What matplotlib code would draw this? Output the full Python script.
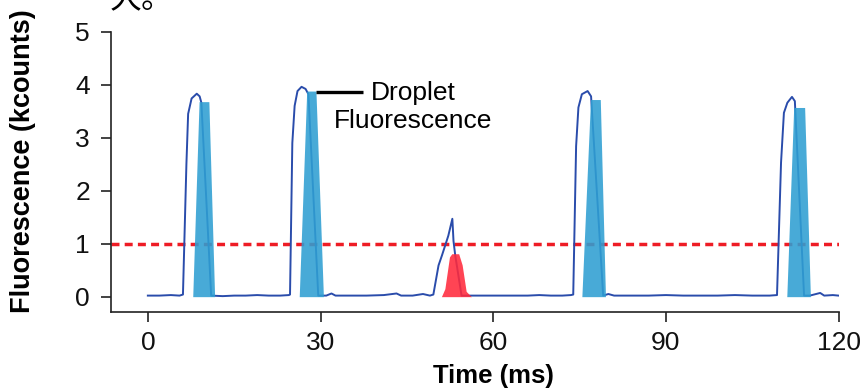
import matplotlib
matplotlib.use("Agg")
import matplotlib.pyplot as plt

plt.rcParams['font.family'] = ['Liberation Sans', 'DejaVu Sans']

# ---- data ----
time_ms = [0, 2, 4, 5.5, 6.1, 6.7, 7.0, 7.6, 8.5, 9.0, 9.3, 11.0,
           13, 15, 17, 19, 21, 23, 24.5, 24.7, 25.1, 25.5, 26.0, 26.7, 27.4, 27.9, 29.6,
           31.0, 31.9, 32.6, 35, 38, 41, 43.2, 44, 46, 47.8, 49.0, 49.6,
           50.5, 51.1, 52.2, 52.9, 53.1, 53.4, 54.5,
           56, 58, 60, 62, 64, 66, 68, 70, 72, 73.5,
           73.9, 74.4, 74.8, 75.4, 76.4, 77.0, 79.1,
           80, 81, 84, 87, 90, 93, 96, 99, 102, 105, 108,
           109.3, 110.0, 110.5, 111.1, 111.9, 112.4, 114.0,
           115, 116.8, 117.5, 119, 120]
fluor = [0.02, 0.02, 0.03, 0.02, 0.04, 2.5, 3.45, 3.74, 3.83, 3.78, 3.66, 0.02,
         0.01, 0.02, 0.02, 0.03, 0.02, 0.02, 0.03, 0.04, 2.9, 3.6, 3.88, 3.96, 3.92, 3.82, 0.02,
         0.02, 0.06, 0.02, 0.02, 0.02, 0.03, 0.06, 0.02, 0.02, 0.05, 0.02, 0.04,
         0.59, 0.78, 1.15, 1.47, 1.05, 0.78, 0.02,
         0.02, 0.02, 0.02, 0.02, 0.02, 0.02, 0.03, 0.02, 0.02, 0.03,
         0.04, 2.84, 3.57, 3.82, 3.88, 3.78, 0.02,
         0.05, 0.02, 0.02, 0.02, 0.03, 0.02, 0.02, 0.02, 0.03, 0.02, 0.02,
         0.03, 2.53, 3.47, 3.66, 3.77, 3.69, 0.02,
         0.02, 0.07, 0.02, 0.03, 0.02]

# detected (integrated) droplets: trapezoid outlines
drop1_x = [7.8, 8.9, 10.6, 11.6]
drop1_y = [0, 3.68, 3.68, 0]
drop2_x = [26.3, 27.6, 29.2, 30.5]
drop2_y = [0, 3.88, 3.88, 0]
drop4_x = [75.4, 76.9, 78.6, 79.5]
drop4_y = [0, 3.72, 3.72, 0]
drop5_x = [111.0, 112.2, 114.1, 115.1]
drop5_y = [0, 3.57, 3.57, 0]
# rejected (below threshold) event
reject_x = [51.0, 51.6, 52.4, 52.8, 54.0, 54.6, 55.3, 56.2]
reject_y = [0, 0.15, 0.75, 0.81, 0.81, 0.6, 0.1, 0]

threshold = 1.0
x_ticks = [0, 30, 60, 90, 120]
y_ticks = [0, 1, 2, 3, 4, 5]

# ---- figure ----
fig = plt.figure(figsize=(8.65, 3.9), dpi=100)
ax = fig.add_axes([111 / 865, 1 - 311.5 / 390, (838.6 - 111) / 865, (311.5 - 31.7) / 390])

ax.axhline(threshold, color='#ee1c25', lw=2.5, dashes=(2.3, 1.5), zorder=1)
ax.plot(time_ms, fluor, color='#2a4cab', lw=1.4, zorder=2)

blue = '#2f9fd2'
for xs, ys in [(drop1_x, drop1_y), (drop2_x, drop2_y), (drop4_x, drop4_y), (drop5_x, drop5_y)]:
    ax.fill_between(xs, ys, 0, color=blue, alpha=0.88, lw=0, zorder=3)
ax.fill_between(reject_x, reject_y, 0, color='#ff2a3c', alpha=0.88, lw=0, zorder=3)

# annotation
ax.plot([29.2, 37.4], [3.86, 3.86], color='black', lw=2.4, solid_capstyle='butt', zorder=4)
ax.text(46.1, 3.85, "Droplet", ha='center', va='center', fontsize=19)
ax.text(46.1, 3.31, "Fluorescence", ha='center', va='center', fontsize=19)

ax.set_xlim(-6.4, 120)
ax.set_ylim(-0.28, 5)
ax.set_xticks(x_ticks)
ax.set_yticks(y_ticks)
ax.set_xticklabels([str(v) for v in x_ticks])
ax.set_yticklabels([str(v) for v in y_ticks])

for s in ['top', 'right']:
    ax.spines[s].set_visible(False)
for s in ['left', 'bottom']:
    ax.spines[s].set_linewidth(1.2)
    ax.spines[s].set_color('#222222')
ax.tick_params(axis='both', direction='out', length=7.2, width=1.2, color='#222222',
               labelsize=19, labelcolor='#111111')
ax.tick_params(axis='x', pad=7)
ax.tick_params(axis='y', pad=8)

ax.set_xlabel("Time (ms)", fontsize=18.5, fontweight='bold')
ax.set_ylabel("Fluorescence (kcounts)", fontsize=19.5, fontweight='bold')
ax.xaxis.set_label_coords((493 - 111) / 727.6, -(376 - 311.5) / 279.8)
ax.xaxis.label.set_va('center')
ax.yaxis.set_label_coords((23 - 111) / 727.6, (311.5 - 161.5) / 279.8)
ax.yaxis.label.set_va('center')

# cropped caption fragment at top of image (cut off in the reference too)
fig.text(110 / 865, 1 - 8 / 390, "大。", fontsize=23, va='baseline', ha='left',
         family=['Noto Sans CJK SC', 'DejaVu Sans'])

fig.savefig("out.png", dpi=100)
